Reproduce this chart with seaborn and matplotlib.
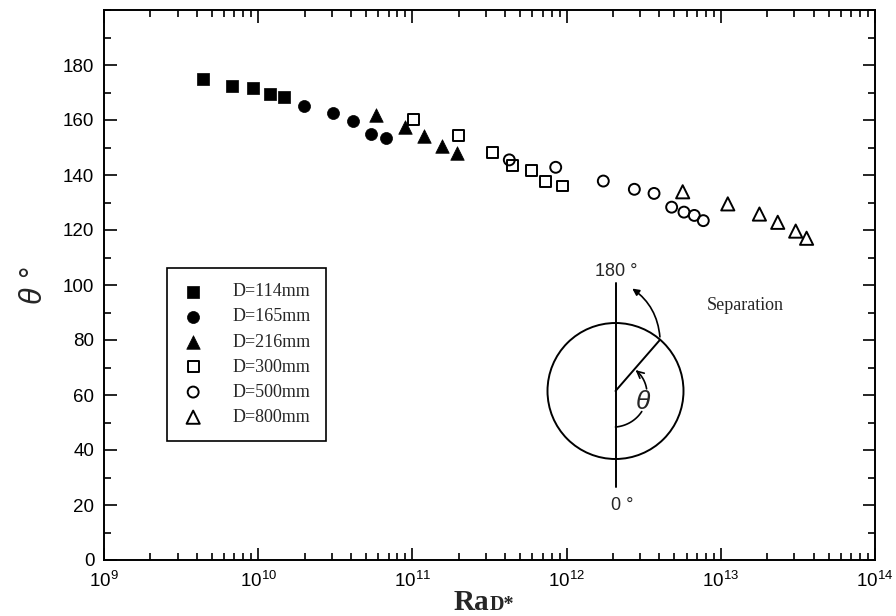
import matplotlib
matplotlib.use("Agg")
import numpy as np
import pandas as pd
import seaborn as sns
import matplotlib.pyplot as plt
from matplotlib.patches import Circle
from matplotlib.ticker import MultipleLocator, LogLocator, NullFormatter

# data: Ra_D* vs separation angle theta (deg)
labels = ["D=114mm", "D=165mm", "D=216mm", "D=300mm", "D=500mm", "D=800mm"]

ra_114 = [4.37e9, 6.73e9, 9.2e9, 1.2e10, 1.48e10]
th_114 = [174.8, 172.4, 171.5, 169.5, 168.3]

ra_165 = [1.98e10, 3.07e10, 4.1e10, 5.37e10, 6.72e10]
th_165 = [165.1, 162.7, 159.5, 154.8, 153.5]

ra_216 = [5.8e10, 8.95e10, 1.19e11, 1.56e11, 1.95e11]
th_216 = [161.8, 157.3, 154.3, 150.5, 147.9]

ra_300 = [1.01e11, 2.0e11, 3.3e11, 4.45e11, 5.94e11, 7.25e11, 9.4e11]
th_300 = [160.2, 154.2, 148.3, 143.3, 141.5, 137.8, 136.0]

ra_500 = [4.25e11, 8.5e11, 1.73e12, 2.75e12, 3.69e12, 4.8e12, 5.77e12, 6.73e12, 7.7e12]
th_500 = [145.5, 142.8, 137.8, 134.8, 133.3, 128.3, 126.5, 125.3, 123.4]

ra_800 = [5.66e12, 1.11e13, 1.78e13, 2.34e13, 3.06e13, 3.6e13]
th_800 = [133.9, 129.5, 125.8, 122.8, 119.6, 117.0]

ra_all = [ra_114, ra_165, ra_216, ra_300, ra_500, ra_800]
th_all = [th_114, th_165, th_216, th_300, th_500, th_800]
markers = ["s", "o", "^", "s", "o", "^"]
filled = [True, True, True, False, False, False]
sizes = [70, 75, 95, 62, 62, 90]

y_ticks = list(range(0, 181, 20))

sns.set_theme(style="ticks", rc={
    "axes.edgecolor": "black", "axes.linewidth": 1.4,
    "xtick.color": "black", "ytick.color": "black",
    "xtick.direction": "in", "ytick.direction": "in",
})
plt.rcParams["font.family"] = ["Liberation Sans", "DejaVu Sans"]

fig = plt.figure(figsize=(8.96, 6.16), dpi=100)
ax = fig.add_axes([104 / 896, 56 / 616, 771 / 896, 550 / 616])

for lab, xs, ys, m, f, s in zip(labels, ra_all, th_all, markers, filled, sizes):
    df = pd.DataFrame({"Ra": xs, "theta": ys})
    if f:
        sns.scatterplot(data=df, x="Ra", y="theta", marker=m, s=s, color="black",
                        edgecolor="black", linewidth=0.5, label=lab, ax=ax, zorder=3)
    else:
        sns.scatterplot(data=df, x="Ra", y="theta", marker=m, s=s, facecolor="none",
                        edgecolor="black", linewidth=1.4, label=lab, ax=ax, zorder=3)

ax.set_xscale("log")
ax.set_xlim(1e9, 1e14)
ax.set_ylim(0, 200)
ax.set_yticks(y_ticks)
ax.yaxis.set_minor_locator(MultipleLocator(10))
ax.xaxis.set_major_locator(LogLocator(base=10, numticks=10))
ax.xaxis.set_minor_locator(LogLocator(base=10, subs=np.arange(2, 10), numticks=20))
ax.xaxis.set_minor_formatter(NullFormatter())
ax.tick_params(which="both", top=True, right=True, direction="in", labelsize=13.5, width=1.2)
ax.tick_params(which="major", length=9)
ax.tick_params(axis="y", which="major", pad=7)
ax.tick_params(axis="x", which="major", pad=8)
ax.tick_params(which="minor", length=5)

ax.set_xlabel("")
ax.set_ylabel("θ °", fontsize=22, style="italic", labelpad=10)

# x label "RaD*" with small-caps D
ax.text(0.5, -0.0909, "Ra", transform=ax.transAxes, ha="right", va="baseline",
        family="Liberation Serif", weight="bold", fontsize=21)
ax.text(0.5, -0.0909, "D*", transform=ax.transAxes, ha="left", va="baseline",
        family="Liberation Serif", weight="bold", fontsize=14.5)

leg = ax.legend(loc="upper left", bbox_to_anchor=(0.0817, 0.531), borderaxespad=0,
                frameon=True, fancybox=False, edgecolor="black", framealpha=1,
                prop={"family": "Liberation Serif", "size": 13},
                handlelength=1.2, handletextpad=1.6, labelspacing=0.45, borderpad=0.85)
leg.get_frame().set_linewidth(1.2)

# inset sketch of the cylinder, drawn in pixel units
ins = fig.add_axes([520 / 896, 96 / 616, 280 / 896, 260 / 616])
ins.set_xlim(520, 800)
ins.set_ylim(520, 260)
ins.axis("off")
cx, cy, r = 615.5, 391, 68
ins.add_patch(Circle((cx, cy), r, fill=False, lw=1.4, ec="black"))
ins.plot([cx, cx], [283, 487], color="black", lw=1.4)
a = np.deg2rad(49)
ex, ey = cx + r * np.cos(a), cy - r * np.sin(a)
ins.plot([cx, ex], [cy, ey], color="black", lw=1.4)

# theta arc, broken where the symbol sits
def arc(t0, t1):
    t = np.linspace(t0, t1, 40)
    rr = 36 + (t + 90) / 136 * (29 - 36)
    return cx + rr * np.cos(np.deg2rad(t)), cy - rr * np.sin(np.deg2rad(t))

lx, ly = arc(-90, -38)
ins.plot(lx, ly, color="black", lw=1.2)
ux, uy = arc(4, 46)
ins.plot(ux[:-5], uy[:-5], color="black", lw=1.2)
ins.annotate("", xy=(ux[-1], uy[-1]), xytext=(ux[-6], uy[-6]),
             arrowprops=dict(arrowstyle="->", lw=1.2, color="black"))
ins.text(643, 402, "θ", fontsize=19, style="italic", ha="center", va="center")
ins.text(622, 505, "0 °", fontsize=13, ha="center", va="center")
ins.text(616, 272, "180 °", fontsize=13, ha="center", va="center")
ins.text(745, 306, "Separation", fontsize=13, family="Liberation Serif", ha="center", va="center")
ins.annotate("", xy=(630, 287), xytext=(ex, ey),
             arrowprops=dict(arrowstyle="-|>", lw=1.2, color="black", mutation_scale=10,
                             connectionstyle="arc3,rad=0.25"))

fig.savefig("out.png", dpi=100)
